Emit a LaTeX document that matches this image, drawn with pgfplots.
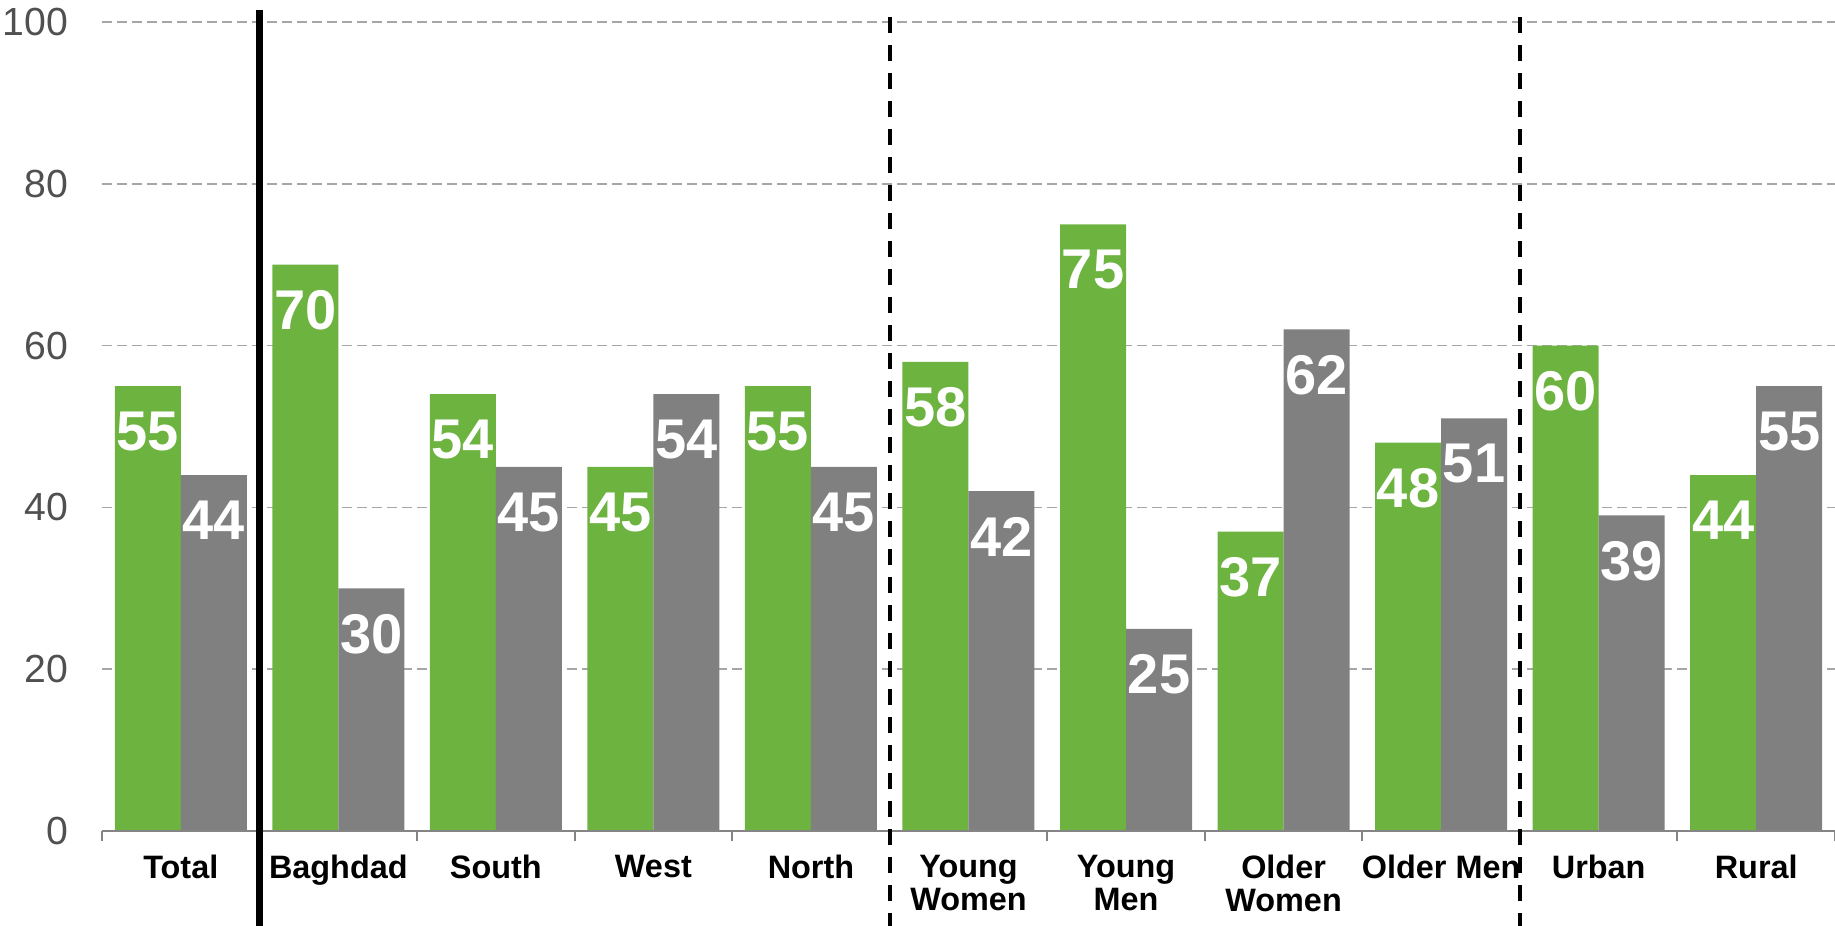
\documentclass[border=0pt]{standalone}
\usepackage{pgfplots}
\pgfplotsset{compat=1.18}
\usepackage{fontspec}
\setmainfont{Liberation Sans}
\definecolor{barGreen}{HTML}{6DB33F}
\definecolor{barGray}{HTML}{808080}
\definecolor{gridGray}{HTML}{A6A6A6}
\definecolor{tickText}{HTML}{505050}
\begin{document}
\begin{tikzpicture}
\begin{axis}[name=ax, scale only axis, width=433.25pt, height=202.25pt,
  xmin=-0.5, xmax=10.5, ymin=0, ymax=100, enlargelimits=false,
  ybar=0pt, bar width=16.5pt,
  axis line style={draw=none},
  xtick={0,...,10},
  xticklabels={Total,Baghdad,South,West,North,{Young\\Women},{Young\\Men},{Older\\Women},Older Men,Urban,Rural},
  minor xtick={-0.5,0.5,...,10.5},
  major tick length=0pt, minor tick length=2.5pt, tick align=outside,
  tick pos=left,
  minor tick style={gridGray!80!black, line width=0.5pt},
  ytick={0,20,...,100},
  ymajorgrids,
  grid style={gridGray, line width=0.4pt, dash pattern=on 2.5pt off 1.25pt},
  /pgf/number format/assume math mode=true,
  yticklabel style={font=\fontsize{9.8}{11}\selectfont, text=tickText, inner sep=0pt, xshift=-8.25pt},
  xticklabel style={font=\fontsize{8.1}{8.2}\selectfont\bfseries, align=center, anchor=north, inner sep=0pt, yshift=-5.8pt},
  nodes near coords,
  every node near coord/.append style={font=\fontsize{14}{16}\selectfont\bfseries, text=white, anchor=north, inner sep=0pt, yshift=-6.25pt},
  clip=false,
]
\addplot[fill=barGreen, draw=none] coordinates {(0,55) (1,70) (2,54) (3,45) (4,55) (5,58) (6,75) (7,37) (8,48) (9,60) (10,44)};
\addplot[fill=barGray, draw=none] coordinates {(0,44) (1,30) (2,45) (3,54) (4,45) (5,42) (6,25) (7,62) (8,51) (9,39) (10,55)};
\draw[gridGray!80!black, line width=0.5pt] (axis cs:-0.5,0) -- (axis cs:10.5,0);
\draw[black, line width=1.75pt] (axis cs:0.5,101.5) -- (axis cs:0.5,-12);
\draw[black, line width=1pt, dash pattern=on 4pt off 3pt] (axis cs:4.5,100.6) -- (axis cs:4.5,-12);
\draw[black, line width=1pt, dash pattern=on 4pt off 3pt] (axis cs:8.5,100.6) -- (axis cs:8.5,-12);
\end{axis}
\pgfresetboundingbox
\path[use as bounding box] ([shift={(-25.5pt,-23.5pt)}]ax.south west) rectangle ([shift={(0pt,5.5pt)}]ax.north east);
\end{tikzpicture}
\end{document}
